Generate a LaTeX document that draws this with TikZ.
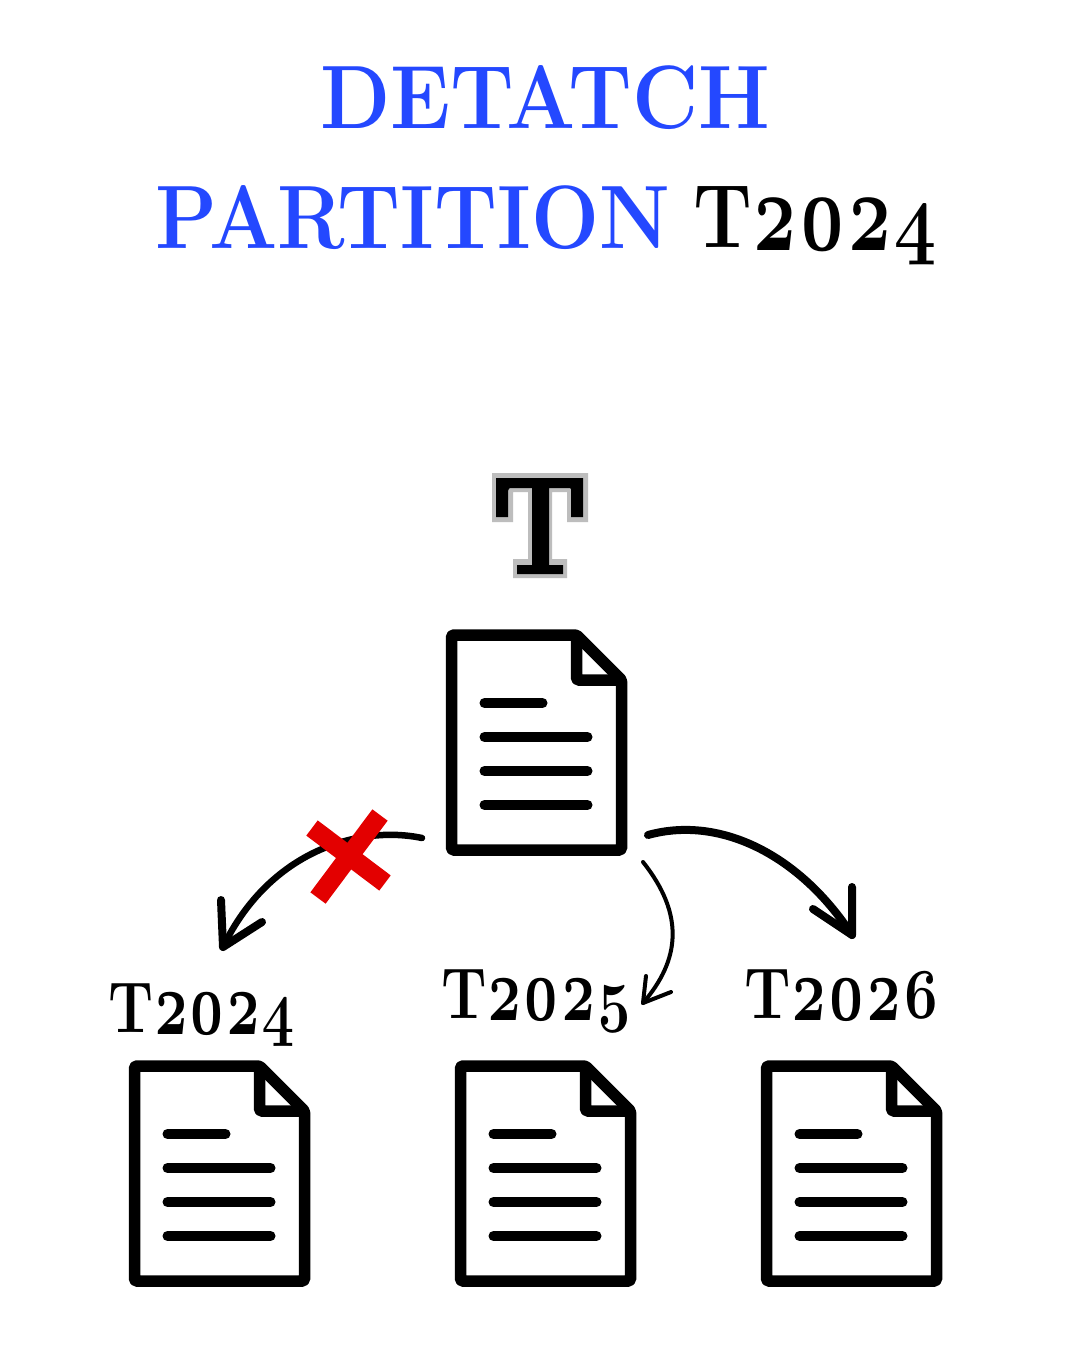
\documentclass[tikz,border=0pt]{standalone}
\usepackage{fontspec}
\setmainfont{Latin Modern Roman}[Numbers=OldStyle]
\definecolor{titleblue}{HTML}{2448FF}
\definecolor{crossred}{HTML}{E30000}
\definecolor{halo}{HTML}{BDBDBD}
\newcommand{\fitw}[3]{\resizebox{#1pt}{\height}{\fontsize{#2}{#2}\selectfont\bfseries #3}}
\newcommand{\dg}[1]{\raisebox{-.04em}{\scalebox{1}[1.27]{#1}}}
\tikzset{
  x=1pt,y=-1pt,
  txt/.style={inner sep=0pt,outer sep=0pt,anchor=base west},
  docline/.style={line width=11.5pt,line join=round,rounded corners=1.5pt},
  docrow/.style={line width=10pt,line cap=round},
  pics/docicon/.style={code={
    \draw[docline] (6,6) -- (131,6) -- (176,51) -- (176,221) -- (6,221) -- cycle;
    \draw[docline] (131,6) -- (131,51) -- (176,51);
    \draw[docrow] (39,74) -- (97,74);
    \draw[docrow] (39,108) -- (142,108);
    \draw[docrow] (39,142) -- (142,142);
    \draw[docrow] (39,176) -- (142,176);
  }},
  curve1/.style={line cap=round,line join=round,line width=6.5pt},
  curve2/.style={line cap=round,line join=round,line width=4pt},
  curve3/.style={line cap=round,line join=round,line width=8pt},
  crossbar/.style={line width=19pt,crossred}
}
\begin{document}
\begin{tikzpicture}
\useasboundingbox (0,0) rectangle (1080,1350);
\fill[white] (0,0) rectangle (1080,1350);
% title
\node[txt,text=titleblue] (t1) at (320,128) {\fitw{450}{90}{DETATCH}};
\node[txt,text=titleblue] (t2) at (155,248) {\fitw{515}{90}{PARTITION}};
\node[txt] (t3) at (693,247) {\fitw{244}{90}{T\dg{2}\dg{0}\dg{2}4}};
% big T
\fill[halo] (492,473) -- (588,473) -- (588,522) -- (567,522) -- (567,492) -- (552,492) -- (552,559) -- (567,559) -- (567,578) -- (513,578) -- (513,559) -- (528,559) -- (528,492) -- (513,492) -- (513,522) -- (492,522) -- cycle;
\fill[black] (496,478) -- (583,478) -- (583,517) -- (571,517) -- (571,488) -- (549,488) -- (549,565) -- (563,565) -- (563,574) -- (517,574) -- (517,565) -- (532,565) -- (532,488) -- (508,488) -- (508,517) -- (496,517) -- cycle;
\node[txt] (bigT) at (499,574) {\resizebox{82pt}{\height}{\fontsize{138}{138}\selectfont T}};
% documents
\pic at (445.5,629) {docicon};
\pic at (128.5,1060) {docicon};
\pic at (454.5,1060) {docicon};
\pic at (760.5,1060) {docicon};
% labels
\node[txt] (l1) at (108,1032) {\fitw{187}{72}{T\dg{2}\dg{0}\dg{2}4}};
\node[txt] (l2) at (441,1018) {\fitw{191}{72}{T\dg{2}\dg{0}\dg{2}5}};
\node[txt] (l3) at (744,1018) {\fitw{196}{72}{T\dg{2}\dg{0}\dg{2}6}};
% connector ends
\coordinate (a1s) at (422,838);
\coordinate (a1e) at (223,947);
\coordinate (a2s) at (643,862);
\coordinate (a2e) at (643,1003);
\coordinate (a3s) at (648,835);
\coordinate (a3e) at (852,935);
\draw[curve1] (a1s) .. controls (360,825) and (270,850) .. (a1e);
\draw[curve1,line width=8pt] (221,900) -- (a1e) -- (262,922);
\draw[curve2] (a2s) .. controls (685,915) and (680,960) .. (a2e);
\draw[curve2] (646,976) -- (a2e) -- (671,992);
\draw[curve3] (a3s) .. controls (720,815) and (800,855) .. (a3e);
\draw[curve3] (852,887) -- (a3e) -- (813,909);
% red cross
\draw[crossbar] (312,828) -- (385,883);
\draw[crossbar] (380,815) -- (318,898);
\end{tikzpicture}
\end{document}
